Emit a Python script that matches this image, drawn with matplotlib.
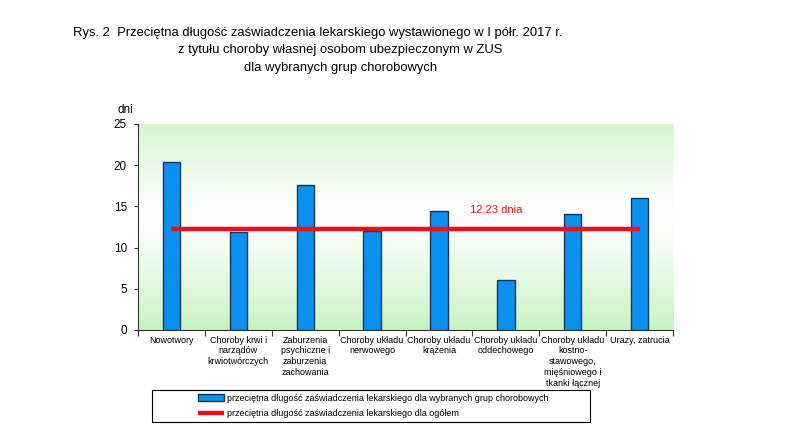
import matplotlib.pyplot as plt
import numpy as np
from matplotlib.patches import Rectangle

plt.rcParams['font.family'] = ['Liberation Sans', 'DejaVu Sans']

categories = ['Nowotwory', 'Choroby krwi i\nnarządów\nkrwiotwórczych',
              'Zaburzenia\npsychiczne i\nzaburzenia\nzachowania',
              'Choroby układu\nnerwowego', 'Choroby układu\nkrążenia',
              'Choroby układu\noddechowego',
              'Choroby układu\nkostno-\nstawowego,\nmięśniowego i\ntkanki łącznej',
              'Urazy, zatrucia']
days = [20.4, 11.9, 17.6, 12.0, 14.4, 6.1, 14.1, 16.0]
overall = 12.23
overall_label = '12,23 dnia'

title_line1 = 'Rys. 2  Przeciętna długość zaświadczenia lekarskiego wystawionego w I półr. 2017 r.'
title_line2 = 'z tytułu choroby własnej osobom ubezpieczonym w ZUS'
title_line3 = 'dla wybranych grup chorobowych'

fig = plt.figure(figsize=(7.86, 4.37), dpi=100)
ax = fig.add_axes([0.1756, 0.2449, 0.6807, 0.4714])

x = np.arange(len(categories))

# tło z gradientem: zielony u góry i u dołu, biały w środku
t = np.linspace(0, 1, 256)
w = np.abs(t - 0.55) / 0.55
w = np.clip(w, 0, 1) ** 1.3
green = np.array([0.78, 0.95, 0.76])
white = np.array([1.0, 1.0, 1.0])
grad = white[None, :] * (1 - w[:, None]) + green[None, :] * w[:, None]
ax.imshow(grad[:, None, :], aspect='auto', extent=[-0.5, len(categories) - 0.5, 0, 25],
          origin='lower', zorder=0)

bars = ax.bar(x, days, width=0.26, color='#0a90ee', edgecolor='#1c3550', linewidth=1.0,
              zorder=2, label='przeciętna długość zaświadczenia lekarskiego dla wybranych grup chorobowych')
line, = ax.plot([x[0], x[-1]], [overall, overall], color='#e8101a', linewidth=3.2, zorder=3,
                solid_capstyle='butt',
                label='przeciętna długość zaświadczenia lekarskiego dla ogółem')
ax.text(4.85, 14.6, overall_label, color='#e8101a', fontsize=8, ha='center', va='center')

ax.set_xlim(-0.5, len(categories) - 0.5)
ax.set_ylim(0, 25)
ax.set_yticks([0, 5, 10, 15, 20, 25])
ax.tick_params(axis='y', labelsize=8.5, length=3, color='#333333', pad=5)
ax.set_xticks(np.arange(len(categories) + 1) - 0.5)
ax.set_xticklabels([])
ax.set_xticks(x, minor=True)
ax.set_xticklabels(categories, minor=True, fontsize=6.5, linespacing=1.28)
ax.tick_params(axis='x', which='major', length=4, color='#333333', direction='out')
ax.tick_params(axis='x', which='minor', length=0, pad=4)
for s in ['top', 'right']:
    ax.spines[s].set_visible(False)
for s in ['left', 'bottom']:
    ax.spines[s].set_color('#333333')
ax.text(-0.023, 1.055, 'dni', transform=ax.transAxes, fontsize=8.5, ha='center')

fig.text(0.093, 0.925, title_line1, fontsize=9.4, ha='left', va='center')
fig.text(0.433, 0.886, title_line2, fontsize=9.4, ha='center', va='center')
fig.text(0.433, 0.845, title_line3, fontsize=9.4, ha='center', va='center')

# ramka legendy
fig.patches.append(Rectangle((0.193, 0.034), 0.557, 0.073, transform=fig.transFigure,
                             fill=False, edgecolor='black', linewidth=0.8))
fig.legend(handles=[bars, line], loc='center left', bbox_to_anchor=(0.252, 0.071),
           frameon=False, fontsize=6.5, handlelength=2.9, handletextpad=0.3,
           labelspacing=0.7, borderaxespad=0, borderpad=0)

fig.savefig('out.png', dpi=100)
